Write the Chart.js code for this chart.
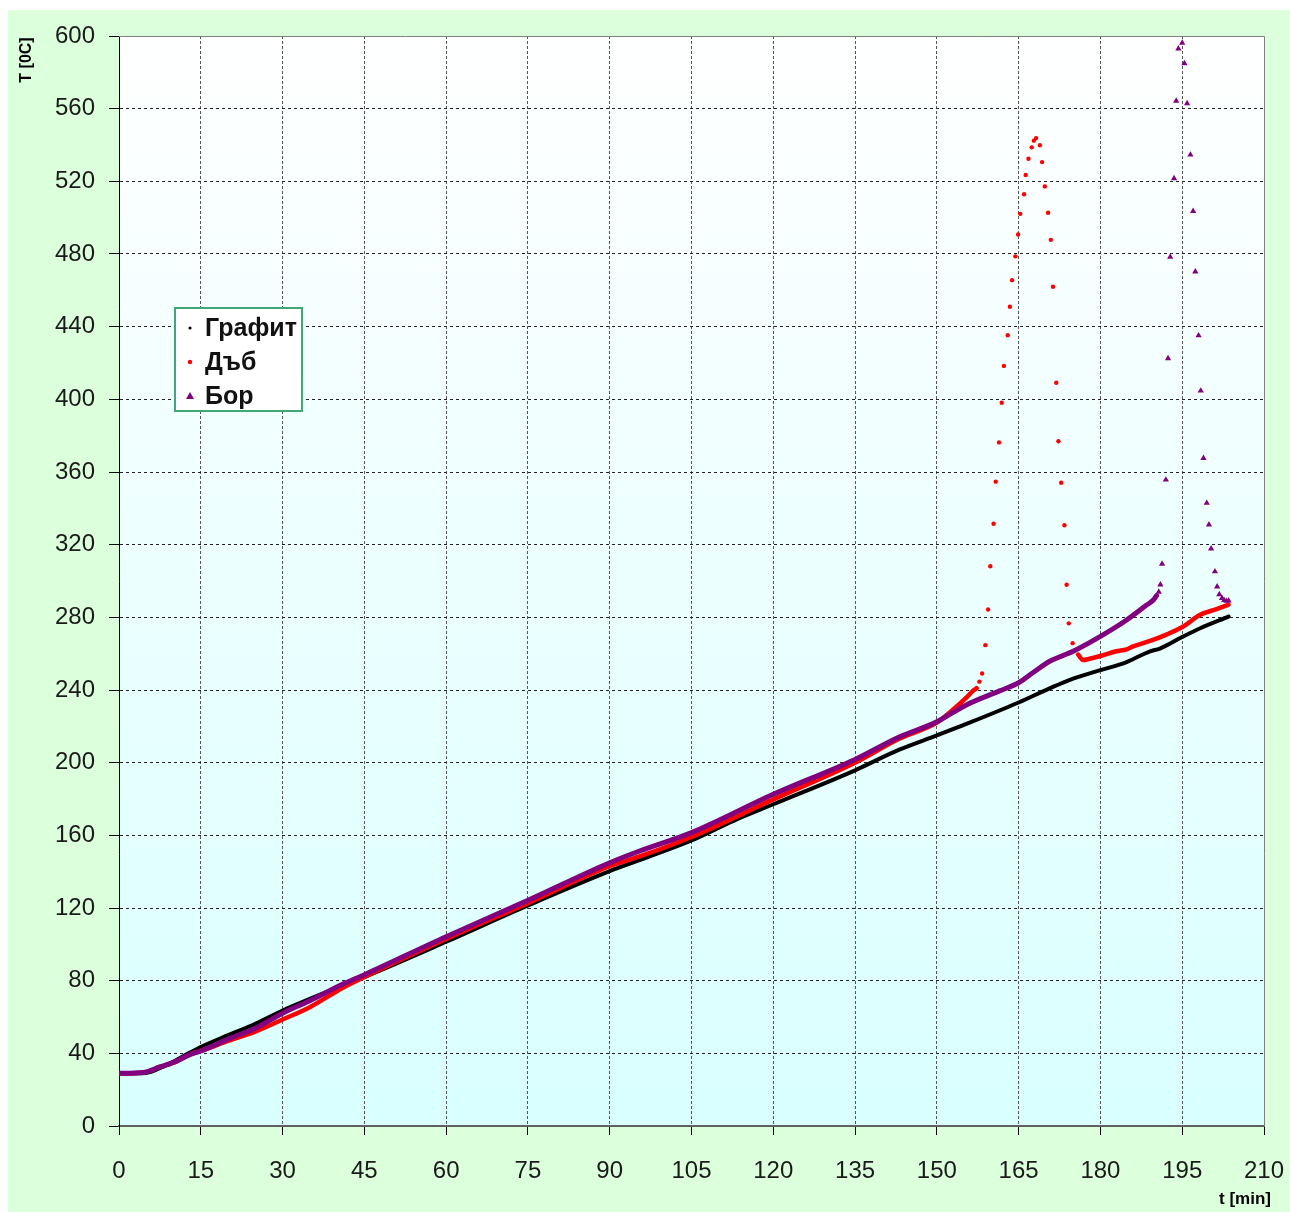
<!DOCTYPE html>
<html>
<head>
<meta charset="utf-8">
<title>T(t)</title>
<script src="https://cdn.jsdelivr.net/npm/chart.js@4.4.1/dist/chart.umd.min.js"></script>
<style>
  body { margin: 0; background: #ffffff; }
  #wrap { position: absolute; left: 8px; top: 10px; width: 1282px; height: 1202px; background: #dcffdc; }
</style>
</head>
<body>
<div id="wrap"><canvas id="chart" width="1282" height="1202"></canvas></div>
<script>
// time axis ticks (min) and temperature ticks (0C)
const xTicks = [0, 15, 30, 45, 60, 75, 90, 105, 120, 135, 150, 165, 180, 195, 210];
const yTicks = [0, 40, 80, 120, 160, 200, 240, 280, 320, 360, 400, 440, 480, 520, 560, 600];

// Графит
const grafitTime = [0, 2, 4, 6, 8, 10, 13, 15, 20, 25, 30, 35, 41, 45, 60, 75, 90, 95.6, 105, 112.7, 120, 135, 143, 150, 155.4, 165, 170.7, 174.4, 180, 184.8, 189.1, 190.9, 195, 198.3, 203.5];
const grafitTemp = [29, 29, 29, 30, 32.5, 35.5, 40.4, 43.5, 50, 56.3, 63.6, 70, 77.3, 82, 101.4, 121.4, 140.3, 146.5, 157.2, 168, 177.1, 195.8, 207, 215, 221.3, 233.1, 240.9, 245.6, 250.9, 255.4, 261.3, 262.8, 269.2, 274, 280.4];

// Дъб - before the flare, the flare itself, after it
const dabTime = [0, 4.5, 7.5, 10.5, 13, 15, 20, 25, 30, 35, 41, 45, 60, 75, 90, 95.6, 105, 120, 135, 143, 150, 152.3, 155.4, 156.6, 157.3];
const dabTemp = [29, 29.5, 32.5, 35.6, 39.5, 41.3, 46.8, 52, 58.6, 65.4, 76, 82, 102.9, 122.7, 143, 148.5, 159.1, 179.8, 200, 213, 222, 227.5, 235.8, 239.5, 241];
const dabFlareTime = [157.8, 158.3, 158.9, 159.4, 159.8, 160.4, 160.8, 161.4, 161.9, 162.3, 163.0, 163.4, 163.8, 164.4, 164.9, 165.3, 166.0, 166.3, 166.8, 167.4, 167.8, 168.2, 168.9, 169.3, 169.8, 170.4, 170.9, 171.3, 171.9, 172.3, 172.8, 173.4, 173.8, 174.2, 174.9];
const dabFlareTemp = [244.6, 249.1, 264.7, 284.3, 308.1, 331.5, 354.7, 376.3, 398.1, 418.4, 435.3, 451.0, 465.6, 478.7, 490.7, 502.1, 512.9, 523.5, 532.4, 538.7, 542.4, 543.8, 539.9, 530.6, 517.2, 502.7, 487.8, 462.0, 409.1, 376.9, 354.1, 330.7, 297.9, 276.7, 265.8];
const dabAfterTime = [175.9, 176.8, 178.0, 180, 182.9, 184.8, 186, 189.1, 192.1, 195.1, 198.3, 201.3, 203.5];
const dabAfterTemp = [259.5, 256.5, 257.2, 258.7, 261.3, 262.4, 264, 267, 270.5, 274.8, 281.4, 284.5, 287];

// Бор
const borTime = [0, 4.5, 7.5, 10.5, 13, 15, 20, 25, 30, 35, 41, 45, 60, 75, 90, 95.6, 105, 120, 135, 143, 150, 155.4, 161.5, 165, 167.6, 170.7, 175, 180, 184.8, 188.4, 189.7, 190.3];
const borTemp = [29, 29.5, 32.5, 35.6, 39.3, 41.3, 47.8, 53.8, 62.1, 69, 78, 83.3, 104.2, 124.2, 144.9, 151.5, 161.5, 182.6, 201.8, 214, 222.5, 231.8, 239.5, 244, 249.5, 255.8, 261.3, 269.5, 278.5, 286.6, 289.5, 292];
const borFlareTime = [190.7, 191.0, 191.3, 192.0, 192.4, 192.8, 193.5, 193.9, 194.3, 195.0, 195.4, 195.9, 196.5, 197.0, 197.4, 198.0, 198.4, 198.9, 199.5, 199.9, 200.3, 201.0, 201.4, 201.8, 202.3, 202.7, 203.1, 203.5];
const borFlareTemp = [294, 298, 309.4, 355.7, 422.5, 478.4, 521.6, 564.3, 593.0, 596.2, 584.9, 562.9, 534.6, 503.6, 470.3, 435.1, 404.7, 367.6, 342.9, 331.0, 317.8, 305.2, 296.9, 292.6, 290.6, 289.4, 289.0, 289.2];

const seriesNames = ['Графит', 'Дъб', 'Бор'];
const seriesColors = ['#000000', '#ff0000', '#800080'];

const FONT = "'Liberation Sans', Arial, sans-serif";

function pts(xs, ys) {
    return xs.map((x, i) => ({ x: x, y: ys[i] }));
}

function lineSet(label, xs, ys, color, width, order) {
    return {
        label: label, data: pts(xs, ys), showLine: true,
        borderColor: color, borderWidth: width, pointRadius: 0,
        cubicInterpolationMode: 'monotone',
        borderCapStyle: 'round', borderJoinStyle: 'round', order: order
    };
}

function dotSet(label, xs, ys, color, style, radius, order) {
    return {
        label: label, data: pts(xs, ys), showLine: false,
        pointStyle: style, pointRadius: radius, pointBorderWidth: 0,
        backgroundColor: color, borderColor: color, order: order
    };
}

// plot background, frame, axis titles and the boxed legend
const decor = {
    id: 'decor',
    beforeDraw(chart) {
        const { ctx, chartArea: a } = chart;
        const g = ctx.createLinearGradient(0, a.top, 0, a.bottom);
        g.addColorStop(0, '#ffffff');
        g.addColorStop(1, '#d9ffff');
        ctx.save();
        ctx.fillStyle = g;
        ctx.fillRect(a.left, a.top, a.right - a.left, a.bottom - a.top);
        ctx.restore();
    },
    beforeDatasetsDraw(chart) {
        const { ctx, chartArea: a } = chart;
        ctx.save();
        ctx.strokeStyle = '#808080';
        ctx.lineWidth = 1;
        ctx.beginPath();
        ctx.moveTo(a.left, a.top + 0.5);
        ctx.lineTo(a.right + 0.5, a.top + 0.5);
        ctx.lineTo(a.right + 0.5, a.bottom);
        ctx.stroke();
        ctx.restore();
    },
    afterDraw(chart) {
        const ctx = chart.ctx;
        ctx.save();
        ctx.fillStyle = '#000';
        ctx.font = 'bold 16px ' + FONT;
        ctx.textAlign = 'center';
        ctx.textBaseline = 'middle';
        ctx.translate(19, 50);
        ctx.rotate(-Math.PI / 2);
        ctx.fillText('T [0C]', 0, 0);
        ctx.restore();

        ctx.save();
        ctx.fillStyle = '#000';
        ctx.font = 'bold 17px ' + FONT;
        ctx.textAlign = 'center';
        ctx.textBaseline = 'alphabetic';
        ctx.fillText('t [min]', 1237, 1194);
        ctx.restore();

        // legend box
        const bx = 167, by = 298, bw = 127, bh = 103;
        ctx.save();
        ctx.fillStyle = '#ffffff';
        ctx.fillRect(bx, by, bw, bh);
        ctx.strokeStyle = '#40a878';
        ctx.lineWidth = 2;
        ctx.strokeRect(bx, by, bw, bh);
        ctx.font = 'bold 25px ' + FONT;
        ctx.textBaseline = 'middle';
        ctx.textAlign = 'left';
        seriesNames.forEach((name, i) => {
            const cy = by + 20 + i * 34;
            ctx.fillStyle = seriesColors[i];
            ctx.beginPath();
            if (i === 2) {
                ctx.moveTo(182, cy - 4);
                ctx.lineTo(186, cy + 3);
                ctx.lineTo(178, cy + 3);
                ctx.closePath();
            } else {
                ctx.arc(182, cy, i === 0 ? 1.6 : 2.2, 0, Math.PI * 2);
            }
            ctx.fill();
            ctx.fillStyle = '#111';
            ctx.fillText(name, 197, cy + 1);
        });
        ctx.restore();
    }
};

new Chart(document.getElementById('chart').getContext('2d'), {
    type: 'scatter',
    data: {
        datasets: [
            lineSet(seriesNames[2], borTime, borTemp, seriesColors[2], 5, 0),
            dotSet(seriesNames[2], borFlareTime, borFlareTemp, seriesColors[2], 'triangle', 3.6, 0),
            lineSet(seriesNames[1], dabTime, dabTemp, seriesColors[1], 4.5, 1),
            dotSet(seriesNames[1], dabFlareTime, dabFlareTemp, seriesColors[1], 'circle', 2.2, 1),
            lineSet(seriesNames[1], dabAfterTime, dabAfterTemp, seriesColors[1], 4.5, 1),
            lineSet(seriesNames[0], grafitTime, grafitTemp, seriesColors[0], 4, 2)
        ]
    },
    options: {
        responsive: false,
        animation: false,
        layout: { padding: { top: 26, right: 26, left: 0, bottom: 0 } },
        plugins: { legend: { display: false }, tooltip: { enabled: false } },
        scales: {
            x: {
                type: 'linear', min: 0, max: 210,
                afterFit: s => { s.height = 86; s.paddingLeft = 0; s.paddingRight = 0; },
                afterBuildTicks: s => { s.ticks = xTicks.map(v => ({ value: v })); },
                ticks: { color: '#1a1a1a', font: { family: FONT, size: 24 }, padding: 22 },
                grid: {
                    color: c => (c.tick && (c.tick.value === 0 || c.tick.value === 210)) ? 'rgba(0,0,0,0)' : '#555',
                    tickColor: '#000', tickLength: 9, lineWidth: 1, tickBorderDash: []
                },
                border: { color: '#606060', width: 2, dash: [3, 2] }
            },
            y: {
                type: 'linear', min: 0, max: 600,
                afterFit: s => { s.width = 111; s.paddingTop = 0; s.paddingBottom = 0; },
                afterBuildTicks: s => { s.ticks = yTicks.map(v => ({ value: v })); },
                ticks: { color: '#1a1a1a', font: { family: FONT, size: 24 }, padding: 14 },
                grid: {
                    color: c => (c.tick && (c.tick.value === 0 || c.tick.value === 600)) ? 'rgba(0,0,0,0)' : '#222',
                    tickColor: '#000', tickLength: 10, lineWidth: 1, tickBorderDash: []
                },
                border: { color: '#000', width: 1, dash: [3, 3] }
            }
        }
    },
    plugins: [decor]
});
</script>
</body>
</html>
